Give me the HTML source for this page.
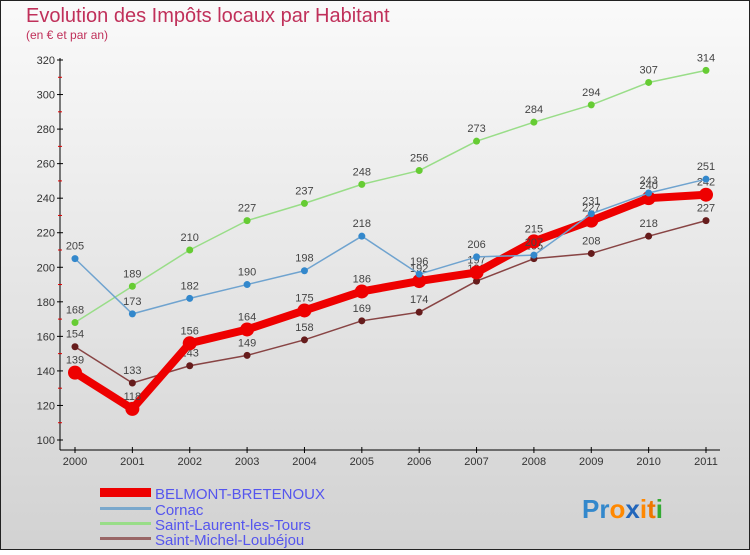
<!DOCTYPE html>
<html><head><meta charset="utf-8"><style>
body{margin:0;}
#c{width:750px;height:550px;position:relative;font-family:"Liberation Sans",sans-serif;}
</style></head><body>
<div id="c">
<svg id="s" width="750" height="550" xmlns="http://www.w3.org/2000/svg">
<defs><linearGradient id="bg" x1="0" y1="0" x2="0" y2="1"><stop offset="0" stop-color="#fafafa"/><stop offset="1" stop-color="#d2d2d2"/></linearGradient></defs>
<rect x="0.5" y="0.5" width="749" height="549" fill="url(#bg)" stroke="#222"/>
<text x="26" y="22" font-size="20" fill="#c0305a">Evolution des Impôts locaux par Habitant</text>
<text x="26" y="39" font-size="12" fill="#c0305a">(en € et par an)</text>
<g id="axes"></g><g id="series"></g>
<g font-size="15" fill="#5555ee">
<rect x="100" y="488" width="51" height="9" fill="#ee0000"/>
<text x="155" y="499">BELMONT-BRETENOUX</text>
<rect x="100" y="507" width="51" height="3" fill="#7aa8cc"/>
<text x="155" y="515">Cornac</text>
<rect x="100" y="522" width="51" height="3" fill="#99dd88"/>
<text x="155" y="530">Saint-Laurent-les-Tours</text>
<rect x="100" y="537" width="51" height="3" fill="#996666"/>
<text x="155" y="545">Saint-Michel-Loubéjou</text>
</g>
<text x="582" y="518" font-size="26" font-weight="bold"><tspan fill="#3388cc">Pr</tspan><tspan fill="#ff8800">o</tspan><tspan fill="#2266bb">x</tspan><tspan fill="#ff8800">i</tspan><tspan fill="#ee7700">t</tspan><tspan fill="#33aa33">i</tspan></text>
</svg></div>
<script>
const years=["2000","2001","2002","2003","2004","2005","2006","2007","2008","2009","2010","2011"];
const yTicks=[100,120,140,160,180,200,220,240,260,280,300,320];
const belmont=[139,118,156,164,175,186,192,197,215,227,240,242];
const cornac=[205,173,182,190,198,218,196,206,207,231,243,251];
const laurent=[168,189,210,227,237,248,256,273,284,294,307,314];
const michel=[154,133,143,149,158,169,174,192,205,208,218,227];
const NS="http://www.w3.org/2000/svg";
const X=i=>75+i*(706-75)/11;
const Y=v=>440-(v-100)*380/220;
function mk(t,a,p){const e=document.createElementNS(NS,t);for(const k in a)e.setAttribute(k,a[k]);p.appendChild(e);return e;}
const ax=document.getElementById('axes');
const yl=mk('line',{x1:60,y1:58,x2:60,y2:450,stroke:'#000'},ax);


const xl=mk('line',{x1:60,y1:450,x2:720,y2:450,stroke:'#000'},ax);


yTicks.forEach(v=>{
 mk('line',{x1:57,y1:Y(v),x2:63,y2:Y(v),stroke:'#000'},ax);
 if(v<320) mk('line',{x1:58,y1:Y(v+10),x2:62,y2:Y(v+10),stroke:'#d00'},ax);
 const t=mk('text',{x:55,y:Y(v)+4,'text-anchor':'end','font-size':11,fill:'#333'},ax);t.textContent=v;
 
 
});
years.forEach((y,i)=>{
 mk('line',{x1:X(i),y1:447,x2:X(i),y2:453,stroke:'#000'},ax);
 const t=mk('text',{x:X(i),y:465,'text-anchor':'middle','font-size':11,fill:'#333'},ax);t.textContent=y;
 
 
});
const sg=document.getElementById('series');
function series(data,name,color,w,r,pc){
 const g=mk('g',{},sg);
 
 
 const l=mk('polyline',{points:data.map((v,i)=>X(i)+','+Y(v)).join(' '),fill:'none',stroke:color,'stroke-width':w,'stroke-linejoin':'round'},g);
 
 
 data.forEach((v,i)=>{
  const c=mk('circle',{cx:X(i),cy:Y(v),r:r,fill:pc},g);
  
  
  const t=mk('text',{x:X(i),y:Y(v)-9,'text-anchor':'middle','font-size':11,fill:'#444'},g);t.textContent=v;
  
  
 });
}
series(laurent,'saint-laurent','#99dd88',1.5,3.5,'#66cc33');
series(michel,'saint-michel','#884444',1.5,3.5,'#661c1c');
series(belmont,'belmont','#ee0000',8,7,'#ee0000');
series(cornac,'cornac','#6fa3cf',1.5,3.5,'#3388cc');
</script>
</body></html>
